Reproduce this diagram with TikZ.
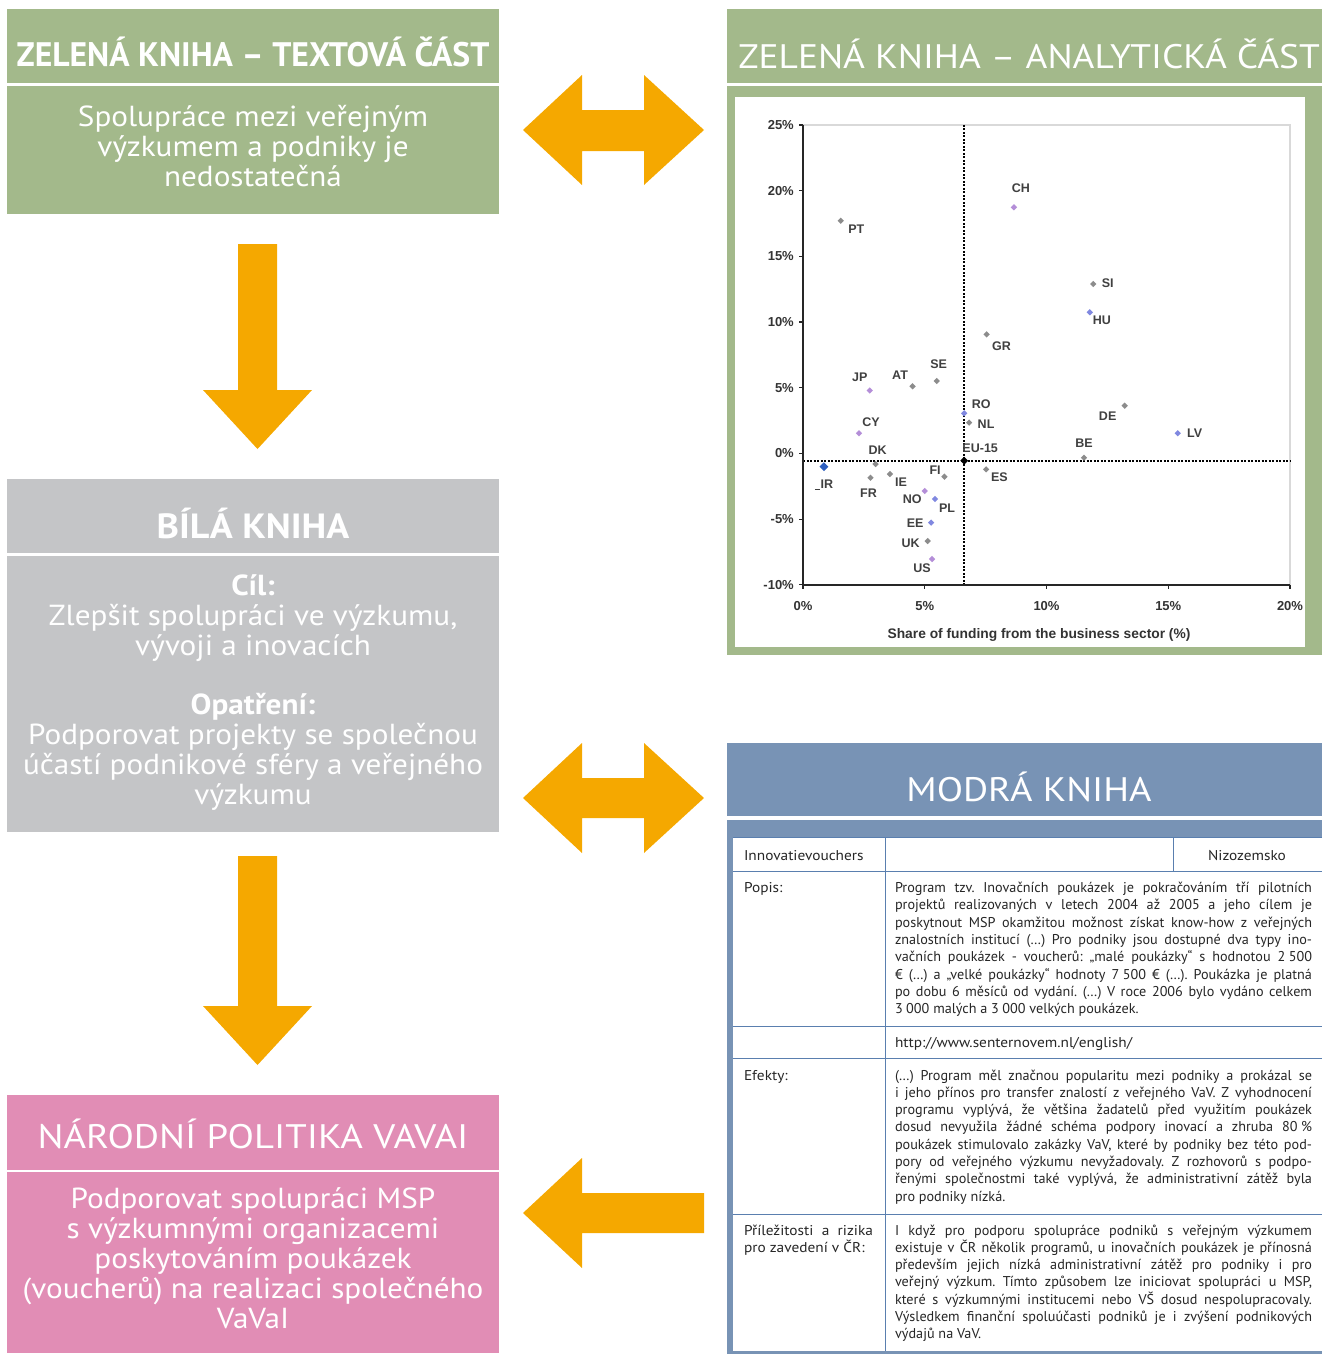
\documentclass[tikz,border=0pt]{standalone}
\usepackage{graphicx}
\usepackage{fontspec}
\setmainfont{PT Sans}
\newfontfamily\grafpismo{Liberation Sans}
\usetikzlibrary{positioning,shapes.geometric}
\frenchspacing

\definecolor{zelena}{HTML}{A3B98B}
\definecolor{bila}{HTML}{C4C5C7}
\definecolor{modra}{HTML}{7893B5}
\definecolor{ruzova}{HTML}{E18DB5}
\definecolor{oranzova}{HTML}{F5A800}
\definecolor{tabcara}{HTML}{5A7FAF}
\definecolor{sedabod}{HTML}{8C8C8C}
\definecolor{fialbod}{HTML}{B48ED8}
\definecolor{modrbod}{HTML}{8088E0}
\definecolor{irbod}{HTML}{2E5FBF}

% lines of a box body, squeezed horizontally
\newcommand{\radky}[2]{\scalebox{#1}[1]{\begin{tabular}{@{}c@{}}#2\end{tabular}}}
\newcommand{\ts}{\hspace{3.5pt}}
\newcommand{\sir}[1]{\scalebox{1.08}[1]{#1}}

\begin{document}
\begin{tikzpicture}[x=1pt,y=-1pt,
  hlava/.style={inner sep=0pt, outer sep=0pt, minimum width=492pt, minimum height=74pt,
    text=white, text depth=0pt, font=\fontsize{34}{40}\selectfont},
  telo/.style={inner sep=0pt, outer sep=0pt, minimum width=492pt, text=white,
    font=\fontsize{29}{29.5}\selectfont},
  sipka/.style={fill=oranzova},
  bunka/.style={inner sep=0pt, outer sep=0pt, anchor=base west, text=black!85,
    font=\fontsize{14.2}{17.3}\selectfont},
  bod/.style={diamond, inner sep=0pt, minimum size=6.5pt},
  stitek/.style={inner sep=0pt, text=black!75, font=\grafpismo\bfseries\fontsize{12.5}{12.5}\selectfont},
  osa/.style={inner sep=0pt, text=black!80, font=\grafpismo\bfseries\fontsize{13}{13}\selectfont},
  tecky/.style={line width=1.8pt, dash pattern=on 2pt off 1.5pt},
]
\useasboundingbox (0,0) rectangle (1322,1354);

%%% left column: the four books
\node[hlava, fill=zelena, text height=41.6pt, font=\bfseries\fontsize{34}{40}\selectfont] (zth) at (253,46) {\scalebox{0.99}[1]{ZELENÁ KNIHA – TEXTOVÁ ČÁST}};
\node[telo, fill=zelena, minimum height=128pt, below=3pt of zth] (ztb)
  {\radky{1.075}{Spolupráce mezi veřejným\\výzkumem a podniky je\\nedostatečná}};

\node[hlava, fill=bila, text height=44.6pt, font=\bfseries\fontsize{35}{40}\selectfont] (bkh) at (253,516) {\scalebox{1.085}[1]{BÍLÁ KNIHA}};
\node[telo, fill=bila, minimum height=276pt, below=3pt of bkh] (bkb)
  {\radky{1.075}{\textbf{Cíl:}\\Zlepšit spolupráci ve výzkumu,\\vývoji a inovacích\\ \\\textbf{Opatření:}\\Podporovat projekty se společnou\\účastí podnikové sféry a veřejného\\výzkumu}};

\node[hlava, fill=ruzova, minimum height=75pt, text height=31.6pt] (nph) at (253,1132.5) {\scalebox{1.136}[1]{NÁRODNÍ POLITIKA VAVAI}};
\node[telo, fill=ruzova, minimum height=181pt, below=2pt of nph] (npb)
  {\radky{1.075}{Podporovat spolupráci MSP\\s výzkumnými organizacemi\\poskytováním poukázek\\(voucherů) na realizaci společného\\VaVaI}};

%%% right column: analytic part with the chart
\node[hlava, fill=zelena, minimum width=595pt, text height=46pt] (zah) at (1024.5,46) {\hspace*{9pt}\scalebox{1.10}[1]{ZELENÁ KNIHA – ANALYTICKÁ ČÁST}};
\node[fill=zelena, inner sep=0pt, outer sep=0pt, minimum width=595pt, minimum height=569pt, below=3pt of zah] (zar) {};
\fill[white] (735,97) rectangle (1305,647);

\begin{scope}[shift={(803,453.4)}, x=24.35pt, y=13.14pt]
\draw[black!15, line width=2pt] (0,25) -- (20,25) -- (20,-10);
\draw[tecky] (6.62,25) -- (6.62,-10);
\draw[tecky] (0,-0.55) -- (20,-0.55);
\draw[black!85, line width=1.8pt] (0,25) -- (0,-10) -- (20,-10);
\foreach \v in {25,20,...,-10} {
  \draw[black!85, line width=1.2pt] (0,\v) -- ++(-4pt,0);
  \node[osa, anchor=east] (ty\v) at ([xshift=-9pt]0,\v) {\v\%};
}
\foreach \v in {0,5,...,20} {
  \draw[black!85, line width=1.2pt] (\v,-10) -- ++(0,-4pt);
  \node[osa] (tx\v) at ([yshift=-21.7pt]\v,-10) {\v\%};
}
\foreach \px/\py/\barva/\jm/\txt/\dx/\dy in {
  1.55/17.71/sedabod/pt/PT/15.6/-8.6,
  8.66/18.73/fialbod/ch/CH/7/18.6,
  11.92/12.89/sedabod/si/SI/14.4/0.7,
  11.78/10.74/modrbod/hu/HU/12/-8.4,
  7.54/9.06/sedabod/gr/GR/15/-11.4,
  2.74/4.79/fialbod/jp/JP/-10/13,
  4.50/5.11/sedabod/au/AT/-12.5/10.6,
  5.49/5.51/sedabod/se/SE/2/16.7,
  6.62/3.05/modrbod/ro/RO/17/9.3,
  6.82/2.34/sedabod/nl/NL/17/-1.3,
  2.30/1.53/fialbod/cy/CY/12/11.3,
  13.21/3.63/sedabod/de/DE/-17/-10,
  15.39/1.53/modrbod/lv/LV/17/0,
  11.54/-0.33/sedabod/be/BE/0/14.4,
  2.98/-0.81/sedabod/dk/DK/2/14,
  2.77/-1.85/sedabod/fr/FR/-2/-15,
  3.57/-1.57/sedabod/ie/IE/11/-7.7,
  5.81/-1.77/sedabod/fi/FI/-9.4/6.7,
  7.52/-1.21/sedabod/es/ES/13.3/-8,
  5.00/-2.86/fialbod/no/NO/-12.5/-8.3,
  5.42/-3.47/modrbod/pl/PL/12/-9.3,
  5.26/-5.27/modrbod/ee/EE/-16/-0.6,
  5.12/-6.67/sedabod/uk/UK/-17/-2.3,
  5.30/-8.04/fialbod/us/US/-10/-9.3} {
  \node[bod, fill=\barva] (b\jm) at (\px,\py) {};
  \node[stitek] (st\jm) at ([xshift=\dx pt, yshift=\dy pt]b\jm.center) {\txt};
}
\node[bod, fill=irbod, minimum size=9pt] (bir) at (0.86,-1.01) {};
\node[stitek] (stir) at ([xshift=3pt, yshift=-17.3pt]bir.center) {IR};
\draw[black!75, line width=1.2pt] ([xshift=-9pt, yshift=-22.6pt]bir.center) -- ++(5pt,0);
\node[bod, fill=black, minimum size=8pt] (beu) at (6.62,-0.55) {};
\node[stitek] (steu) at ([xshift=16pt, yshift=12.7pt]beu.center) {EU-15};
\end{scope}
\node[osa, font=\grafpismo\bfseries\fontsize{13.8}{14}\selectfont] (osax) at (1039,635) {Share of funding from the business sector (\%)};

%%% right column: blue book with the table
\node[hlava, fill=modra, minimum width=595pt, minimum height=73pt, text height=43.8pt] (mkh) at (1024.5,779.5) {\hspace*{9pt}\scalebox{1.13}[1]{MODRÁ KNIHA}};
\node[fill=modra, inner sep=0pt, outer sep=0pt, minimum width=595pt, minimum height=534pt, below=3.5pt of mkh] (mkb) {};
\fill[white] (733,837) rectangle (1322,1351);
\draw[tabcara, line width=1pt] (733,837) -- (1322,837) (733,871) -- (1322,871)
  (733,1026) -- (1322,1026) (733,1058) -- (1322,1058) (733,1214) -- (1322,1214)
  (885,837) -- (885,1351) (1173,837) -- (1173,871);

\node[bunka] (inn) at (744,860) {\sir{Innovatievouchers}};
\node[bunka, anchor=base] (niz) at (1247,860) {\sir{Nizozemsko}};
\node[bunka] (pop) at (744,892.5) {\sir{Popis:}};
\node[bunka] (efe) at (744,1080) {\sir{Efekty:}};
\node[bunka] (pri1) at (744,1235) {\sir{\makebox[119.4pt][s]{Příležitosti a rizika}}};
\node[bunka] (pri2) at (744,1252.3) {\sir{pro zavedení v ČR:}};
\node[bunka] (url) at (895,1047) {\sir{http://www.senternovem.nl/english/}};

\foreach \t [count=\i from 0] in {
  {Program tzv. Inovačních poukázek je pokračováním tří pilotních},
  {projektů realizovaných v letech 2004 až 2005 a jeho cílem je},
  {poskytnout MSP okamžitou možnost získat know-how z veřejných},
  {znalostních institucí (…) Pro podniky jsou dostupné dva typy ino-},
  {vačních poukázek - voucherů: „malé poukázky“ s hodnotou 2\ts500},
  {€ (…) a „velké poukázky“ hodnoty 7\ts500 € (…). Poukázka je platná},
  {po dobu 6 měsíců od vydání. (…) V roce 2006 bylo vydáno celkem},
  {3\ts000 malých a 3\ts000 velkých poukázek.\hfill}}
  \node[bunka] (popis\i) at (895,892.5+17.3*\i) {\makebox[417pt][s]{\t}};

\foreach \t [count=\i from 0] in {
  {(…) Program měl značnou popularitu mezi podniky a prokázal se},
  {i jeho přínos pro transfer znalostí z veřejného VaV. Z vyhodnocení},
  {programu vyplývá, že většina žadatelů před využitím poukázek},
  {dosud nevyužila žádné schéma podpory inovací a zhruba 80\ts\%},
  {poukázek stimulovalo zakázky VaV, které by podniky bez této pod-},
  {pory od veřejného výzkumu nevyžadovaly. Z rozhovorů s podpo-},
  {řenými společnostmi také vyplývá, že administrativní zátěž byla},
  {pro podniky nízká.\hfill}}
  \node[bunka] (efekt\i) at (895,1080+17.3*\i) {\makebox[417pt][s]{\t}};

\foreach \t [count=\i from 0] in {
  {I když pro podporu spolupráce podniků s veřejným výzkumem},
  {existuje v ČR několik programů, u inovačních poukázek je přínosná},
  {především jejich nízká administrativní zátěž pro podniky i pro},
  {veřejný výzkum. Tímto způsobem lze iniciovat spolupráci u MSP,},
  {které s výzkumnými institucemi nebo VŠ dosud nespolupracovaly.},
  {Výsledkem finanční spoluúčasti podniků je i zvýšení podnikových},
  {výdajů na VaV.\hfill}}
  \node[bunka] (prilez\i) at (895,1235+17.3*\i) {\makebox[417pt][s]{\t}};

%%% the orange arrows between the books
\fill[sipka] (523,130) -- (582,75) -- (582,110) -- (644,110) -- (644,75) -- (704,130)
  -- (644,185) -- (644,151) -- (582,151) -- (582,185) -- cycle;
\fill[sipka] (523,798) -- (582,743) -- (582,778) -- (644,778) -- (644,743) -- (704,798)
  -- (644,853) -- (644,818) -- (582,818) -- (582,853) -- cycle;
\fill[sipka] (238,244) -- (277,244) -- (277,390) -- (312,390) -- (257.5,449) -- (203,390) -- (238,390) -- cycle;
\fill[sipka] (238,856) -- (277,856) -- (277,1006) -- (312,1006) -- (257.5,1065) -- (203,1006) -- (238,1006) -- cycle;
\fill[sipka] (523,1213) -- (582,1158) -- (582,1193) -- (704,1193) -- (704,1233) -- (582,1233) -- (582,1268) -- cycle;
\end{tikzpicture}
\end{document}
